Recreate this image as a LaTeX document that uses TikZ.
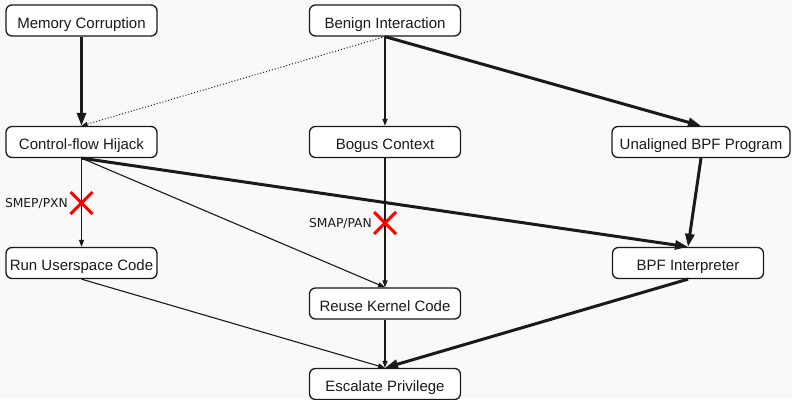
\documentclass[tikz,border=0pt]{standalone}
\usepackage{fontspec}
\setmainfont{Liberation Sans}
\newfontfamily\labelfont{DejaVu Sans}
\usetikzlibrary{arrows.meta,calc}
\definecolor{bgcol}{HTML}{F9F9F9}
\definecolor{inkcol}{HTML}{1A1A1A}
\definecolor{crossred}{HTML}{FF0000}
\tikzset{
  box/.style={draw=inkcol, fill=white, line width=1.3pt, rounded corners=6pt,
    minimum height=31pt, inner sep=0pt, text=inkcol, text height=15pt, text depth=0pt,
    font=\fontsize{15}{17}\selectfont},
  narrow/.style={box, minimum width=151pt},
  wide/.style={box, minimum width=178pt},
  thinarrow/.style={draw=inkcol, line width=1.1pt, -{Triangle[length=7pt, width=5pt]}},
  thickarrow/.style={draw=inkcol, line width=3pt, -{Triangle[length=13pt, width=9pt]}},
  dotarrow/.style={draw=inkcol, line width=1pt, dotted, -{Triangle[length=6pt, width=4.5pt]}},
  guard/.style={font=\labelfont\fontsize{12.3}{14}\selectfont, text=inkcol, anchor=east, inner sep=0pt},
  cross/.style={draw=crossred, line width=3pt}
}
\begin{document}
\begin{tikzpicture}[x=1pt, y=-1pt]
  \fill[bgcol] (0,0) rectangle (792,399);
  \useasboundingbox (0,0) rectangle (792,399);

  % attack sources
  \node[narrow] (mem)    at (81.5, 20.5) {Memory Corruption};
  \node[narrow] (benign) at (385, 20.5)  {Benign Interaction};

  % intermediate states
  \node[narrow] (cfh)   at (81.5, 142) {Control-flow Hijack};
  \node[narrow] (bogus) at (385, 142)  {Bogus Context};
  \node[wide]   (unal)  at (701, 142)  {Unaligned BPF Program};

  % exploitation techniques
  \node[narrow] (user)   at (81.5, 263)  {Run Userspace Code};
  \node[narrow] (reuse)  at (385, 303.5) {Reuse Kernel Code};
  \node[narrow] (interp) at (688, 263)   {BPF Interpreter};

  % goal
  \node[narrow] (esc) at (385, 384) {Escalate Privilege};

  % connectors
  \draw[thickarrow] (mem.south) -- (cfh.north);
  \draw[dotarrow]   (benign.south) -- (cfh.north);
  \draw[thinarrow]  (benign.south) -- (bogus.north);
  \draw[thickarrow] (benign.south) -- (unal.north);

  \draw[thinarrow]  (cfh.south) -- (user.north);
  \draw[thinarrow]  (cfh.south) -- (reuse.north);
  \draw[thickarrow] (cfh.south) -- (interp.north);
  \draw[thinarrow]  (bogus.south) -- (reuse.north);
  \draw[thickarrow] (unal.south) -- (interp.north);

  \draw[thinarrow]  (user.south) -- (esc.north);
  \draw[thinarrow]  (reuse.south) -- (esc.north);
  \draw[thickarrow] (interp.south) -- (esc.north);

  % mitigations blocking a path
  \coordinate (x1) at (81.5, 203);
  \coordinate (x2) at (385, 223);
  \draw[cross] ($(x1)+(-11,-11)$) -- ($(x1)+(11,11)$) ($(x1)+(-11,11)$) -- ($(x1)+(11,-11)$);
  \draw[cross] ($(x2)+(-11,-11)$) -- ($(x2)+(11,11)$) ($(x2)+(-11,11)$) -- ($(x2)+(11,-11)$);
  \node[guard] (smep) at (68, 204) {SMEP/PXN};
  \node[guard] (smap) at (372, 224) {SMAP/PAN};
\end{tikzpicture}
\end{document}
